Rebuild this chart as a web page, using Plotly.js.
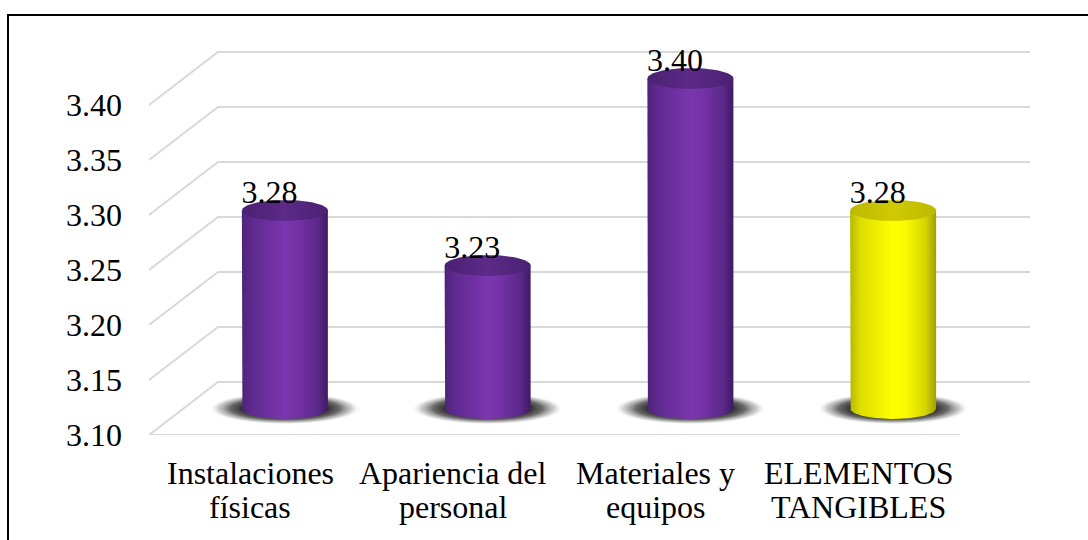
<!DOCTYPE html>
<html>
<head>
<meta charset="utf-8">
<script src="https://cdn.plot.ly/plotly-3.0.1.min.js"></script>
<style>
  html, body { margin: 0; padding: 0; background: #ffffff; }
  #chart { width: 1088px; height: 540px; }
</style>
</head>
<body>
<div id="chart"></div>
<script>
// ---------- data ----------
const categories = ["Instalaciones<br>físicas", "Apariencia del<br>personal", "Materiales y<br>equipos", "ELEMENTOS<br>TANGIBLES"];
const values = [3.28, 3.23, 3.40, 3.28];
const yTicks = [3.10, 3.15, 3.20, 3.25, 3.30, 3.35, 3.40];

// ---------- geometry / style ----------
const W = 1088, H = 540;
const L = 149, R = 58, T = 20, B = 105;
const plotW = W - L - R, plotH = H - T - B;
const PX_PER_CAT = 202.75;             // pixels per category slot (front plane)
const PX_PER_VAL = 1100;               // pixels per value unit
const xMin = -0.5, xMax = -0.5 + plotW / PX_PER_CAT;
const yMin = yTicks[0], yMax = yMin + plotH / PX_PER_VAL;
const DX = 69 / PX_PER_CAT;            // depth offset in x
const DY = 53 / PX_PER_VAL;            // depth offset in y
const halfW = 43 / PX_PER_CAT;         // cylinder radius (x units)
const ellB = 10.5 / PX_PER_VAL;        // ellipse half-height (y units)
const shadowA = 76 / PX_PER_CAT, shadowB = 16 / PX_PER_VAL;
const labelDX = 19 / PX_PER_CAT, labelDY = 16 / PX_PER_VAL;
const highlightIndex = 3;
const FONT = "Liberation Serif, serif";
const FS = 32;

const purpleBody = [[0, '#4e2379'], [0.12, '#5f2a90'], [0.5, '#7a36ae'], [0.62, '#7633a8'], [0.88, '#5b288a'], [1, '#3f1b62']];
const purpleTop = [[0, '#4a2172'], [0.5, '#5c2a88'], [1, '#4a2172']];
const yellowBody = [[0, '#b8b800'], [0.12, '#dede00'], [0.5, '#ffff00'], [0.65, '#fbfb00'], [0.88, '#d4d400'], [1, '#9e9e00']];
const yellowTop = [[0, '#bdb900'], [0.5, '#cfca00'], [1, '#bdb900']];
const shadowScale = [[0, 'rgba(35,35,35,1)'], [0.55, 'rgba(45,45,45,1)'], [0.72, 'rgba(80,80,80,0.85)'], [0.88, 'rgba(150,150,150,0.45)'], [1, 'rgba(255,255,255,0)']];

function ellipsePts(cx, cy, a, b, t0, t1, n) {
  const xs = [], ys = [];
  for (let k = 0; k <= n; k++) {
    const t = t0 + (t1 - t0) * k / n;
    xs.push(cx + a * Math.cos(t));
    ys.push(cy + b * Math.sin(t));
  }
  return [xs, ys];
}

const traces = [];
const yBase = yMin + DY / 2;

// shadows
values.forEach((v, i) => {
  const cx = i + DX / 2;
  const [xs, ys] = ellipsePts(cx, yBase, shadowA, shadowB, 0, 2 * Math.PI, 80);
  traces.push({
    type: 'scatter', mode: 'lines', x: xs, y: ys, fill: 'toself',
    line: { width: 0, color: 'rgba(0,0,0,0)' },
    fillgradient: { type: 'radial', colorscale: shadowScale },
    hoverinfo: 'skip', showlegend: false
  });
});

// cylinder bodies and tops
values.forEach((v, i) => {
  const cx = i + DX / 2;
  const yTop = v + DY / 2;
  const isHi = i === highlightIndex;
  const [bx, by] = ellipsePts(cx, yBase, halfW, ellB, Math.PI, 2 * Math.PI, 60);
  const xs = [cx - halfW, ...bx, cx + halfW, cx - halfW];
  const ys = [yTop, ...by, yTop, yTop];
  traces.push({
    type: 'scatter', mode: 'lines', x: xs, y: ys, fill: 'toself',
    line: { width: 0, color: 'rgba(0,0,0,0)' },
    fillgradient: { type: 'horizontal', colorscale: isHi ? yellowBody : purpleBody },
    hoverinfo: 'skip', showlegend: false
  });
  const [tx, ty] = ellipsePts(cx, yTop, halfW, ellB, 0, 2 * Math.PI, 80);
  traces.push({
    type: 'scatter', mode: 'lines', x: tx, y: ty, fill: 'toself',
    line: { width: 0, color: 'rgba(0,0,0,0)' },
    fillgradient: { type: 'horizontal', colorscale: isHi ? yellowTop : purpleTop },
    hoverinfo: 'skip', showlegend: false
  });
});

// value labels
traces.push({
  type: 'scatter', mode: 'text',
  x: values.map((v, i) => i + labelDX),
  y: values.map(v => v + DY / 2 + labelDY),
  text: values.map(v => v.toFixed(2)),
  textposition: 'middle center',
  textfont: { family: FONT, size: FS, color: '#000000' },
  cliponaxis: false, hoverinfo: 'skip', showlegend: false
});

// gridlines in perspective
const shapes = [];
yTicks.forEach(t => {
  shapes.push({
    type: 'path', layer: 'below', xref: 'x', yref: 'y',
    path: `M ${xMin} ${t} L ${xMin + DX} ${t + DY} L ${xMax} ${t + DY}`,
    line: { color: '#d9d9d9', width: 2 }
  });
});
shapes.push({
  type: 'line', layer: 'below', xref: 'x', yref: 'y',
  x0: xMin, x1: categories.length - 0.5, y0: yMin, y1: yMin,
  line: { color: '#d9d9d9', width: 2 }
});
// outer frame
shapes.push({
  type: 'rect', xref: 'paper', yref: 'paper', layer: 'above',
  x0: (8 - L) / plotW, x1: (W + 20 - L) / plotW,
  y0: -(B + 20) / plotH, y1: (H - B - 15) / plotH,
  line: { color: '#000000', width: 2 }, fillcolor: 'rgba(0,0,0,0)'
});

// category labels: one annotation per line (tight line spacing like the original)
const annotations = [];
const lineCenters = [473, 507];   // pixel centers of label lines
categories.forEach((c, i) => {
  c.split('<br>').forEach((line, k) => {
    annotations.push({
      xref: 'x', yref: 'paper', x: i, y: (H - B - lineCenters[k]) / plotH,
      text: line, showarrow: false, xanchor: 'center', yanchor: 'middle',
      font: { family: FONT, size: FS, color: '#000000' }
    });
  });
});

const layout = {
  width: W, height: H,
  margin: { l: L, r: R, t: T, b: B, pad: 0 },
  paper_bgcolor: '#ffffff', plot_bgcolor: '#ffffff',
  showlegend: false,
  font: { family: FONT, size: FS, color: '#000000' },
  xaxis: {
    range: [xMin, xMax], tickvals: categories.map((c, i) => i), ticktext: categories,
    showticklabels: false,
    showgrid: false, zeroline: false, showline: false, ticks: '', fixedrange: true
  },
  yaxis: {
    range: [yMin, yMax], tickvals: yTicks, ticktext: yTicks.map(t => t.toFixed(2)),
    showgrid: false, zeroline: false, showline: false, ticks: '',
    ticklabelstandoff: 26,
    tickfont: { family: FONT, size: FS, color: '#000000' }, fixedrange: true
  },
  shapes: shapes,
  annotations: annotations
};

Plotly.newPlot('chart', traces, layout, { staticPlot: true, displayModeBar: false });
</script>
</body>
</html>
